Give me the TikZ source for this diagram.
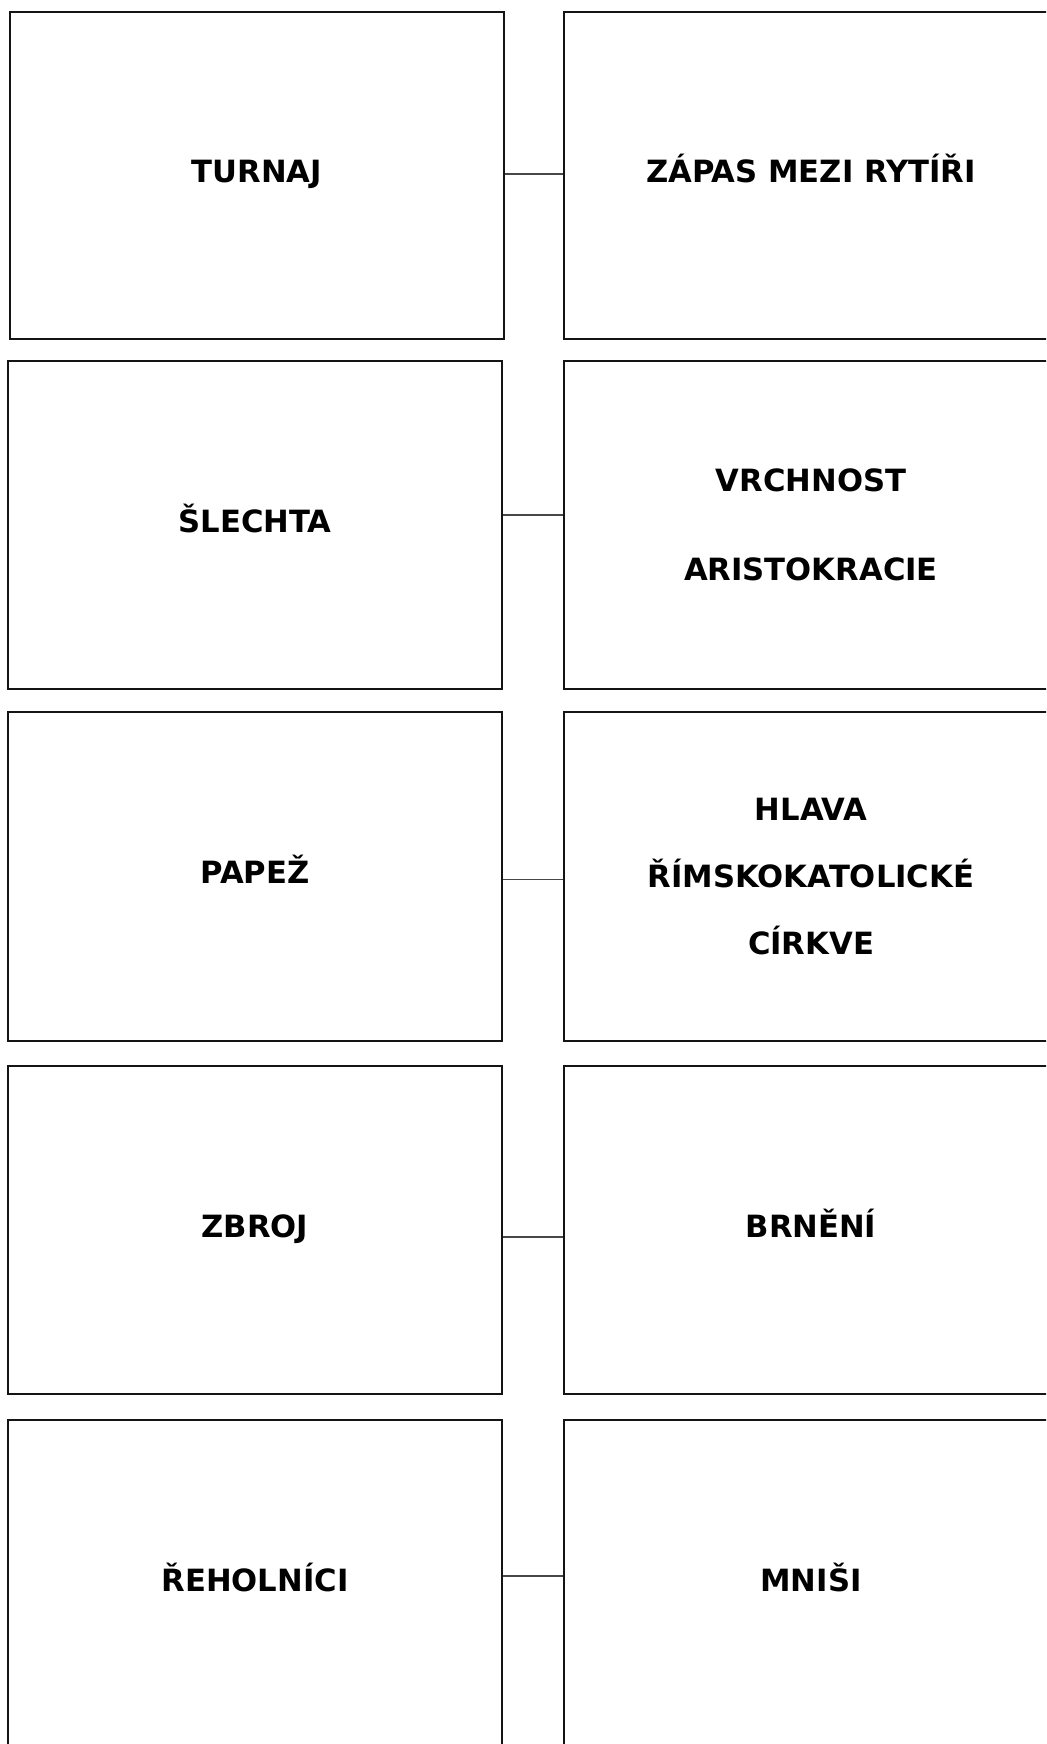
\documentclass[tikz,border=0pt]{standalone}
\usepackage{fontspec}
\setmainfont{DejaVu Sans}
\begin{document}
\begin{tikzpicture}[x=0.75pt,y=-0.75pt,
  card/.style={draw=black!92, line width=2.1pt, rectangle, minimum width=494*0.75pt,
    minimum height=328*0.75pt, inner sep=0pt, align=center,
    font=\fontsize{23}{28}\selectfont\bfseries},
  oneline/.style={text height=17pt, text depth=6pt},
  link/.style={draw=black!72, line width=0.8pt}]
\useasboundingbox (0,0) rectangle (1046,1744);
\clip (0,0) rectangle (1046,1744);
% row 1
\node[card, oneline, minimum height=327*0.75pt] (l1) at (257,175.5) {TURNAJ};
\node[card, oneline, minimum height=327*0.75pt] (r1) at (811,175.5) {ZÁPAS MEZI RYTÍŘI};
% row 2
\node[card, oneline] (l2) at (255,525) {ŠLECHTA};
\node[card, font=\fontsize{23}{66.75}\selectfont\bfseries] (r2) at (811,525) {VRCHNOST\\ARISTOKRACIE};
% row 3
\node[card, oneline, minimum height=329*0.75pt] (l3) at (255,876.5) {PAPEŽ};
\node[card, minimum height=329*0.75pt, font=\fontsize{23}{50}\selectfont\bfseries] (r3) at (811,876.5) {HLAVA\\ŘÍMSKOKATOLICKÉ\\CÍRKVE};
% row 4
\node[card, oneline] (l4) at (255,1230) {ZBROJ};
\node[card, oneline] (r4) at (811,1230) {BRNĚNÍ};
% row 5
\node[card, oneline] (l5) at (255,1584) {ŘEHOLNÍCI};
\node[card, oneline] (r5) at (811,1584) {MNIŠI};
% connectors
\draw[link] ([yshift=1.1pt]l1.east) -- ([yshift=1.1pt]r1.west);
\draw[link] ([yshift=7.5pt]l2.east) -- ([yshift=7.5pt]r2.west);
\draw[link] ([yshift=-1.9pt]l3.east) -- ([yshift=-1.9pt]r3.west);
\draw[link] ([yshift=-5.25pt]l4.east) -- ([yshift=-5.25pt]r4.west);
\draw[link] ([yshift=6pt]l5.east) -- ([yshift=6pt]r5.west);
\end{tikzpicture}
\end{document}
